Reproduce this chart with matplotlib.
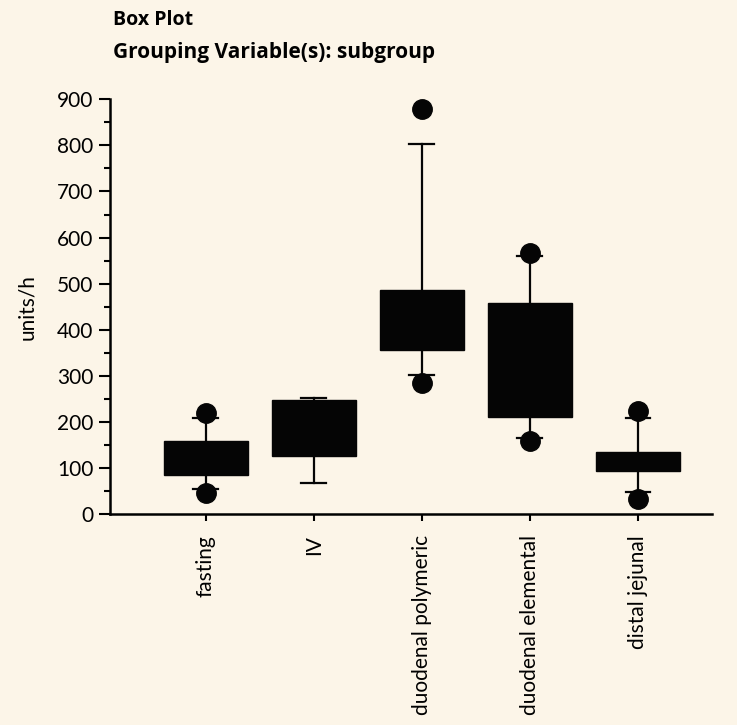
import matplotlib
matplotlib.use("Agg")
import matplotlib.pyplot as plt
from matplotlib.ticker import MultipleLocator

# values (units/h)
groups = ["fasting", "IV", "duodenal polymeric", "duodenal elemental", "distal jejunal"]
whis_low = [54, 67, 301, 165, 48]
q1 = [85, 126, 356, 210, 93]
medians = [120, 156, 442, 312, 115]
q3 = [158, 247, 486, 458, 134]
whis_high = [208, 251, 802, 560, 208]
outliers = [[46, 219], [], [284, 880], [158, 566], [33, 223]]

bg = "#FCF5E8"
font = ["Lato", "DejaVu Sans"]
plt.rcParams["font.family"] = font

stats = []
for i, name in enumerate(groups):
    stats.append({
        "label": name,
        "whislo": whis_low[i],
        "q1": q1[i],
        "med": medians[i],
        "q3": q3[i],
        "whishi": whis_high[i],
        "fliers": outliers[i],
    })

fig = plt.figure(figsize=(7.37, 7.25), dpi=100, facecolor=bg)
ax = fig.add_axes([0.149, 0.291, 0.817, 0.572], facecolor=bg)

ax.bxp(
    stats,
    positions=range(1, len(groups) + 1),
    widths=0.78,
    patch_artist=True,
    capwidths=0.23,
    boxprops=dict(facecolor="#050505", edgecolor="#050505", linewidth=1),
    medianprops=dict(color="#050505", linewidth=1),
    whiskerprops=dict(color="#050505", linewidth=1.6),
    capprops=dict(color="#050505", linewidth=1.6),
    flierprops=dict(marker="o", markerfacecolor="#050505",
                    markeredgecolor="#050505", markersize=14),
)

ax.set_ylim(0, 900)
ax.set_xlim(0.111, 5.685)
ax.yaxis.set_major_locator(MultipleLocator(100))
ax.yaxis.set_minor_locator(MultipleLocator(50))
ax.tick_params(axis="y", which="major", length=8, width=1.5, labelsize=15, pad=4)
ax.tick_params(axis="y", which="minor", length=4, width=1.5)
ax.tick_params(axis="x", length=5, width=1.5, labelsize=15, labelrotation=90, pad=10)
for lab in ax.get_xticklabels():
    lab.set_verticalalignment("top")

for side in ["top", "right"]:
    ax.spines[side].set_visible(False)
for side in ["left", "bottom"]:
    ax.spines[side].set_linewidth(1.8)

ax.set_ylabel("units/h", fontsize=15, labelpad=14)

title_font = ["Open Sans", "DejaVu Sans"]
fig.text(0.153, 0.973, "Box Plot", fontsize=14, fontweight="bold",
         va="center", family=title_font)
fig.text(0.153, 0.927, "Grouping Variable(s): subgroup", fontsize=15,
         fontweight="bold", va="center", family=title_font)

fig.savefig("out.png", dpi=100, facecolor=bg)
